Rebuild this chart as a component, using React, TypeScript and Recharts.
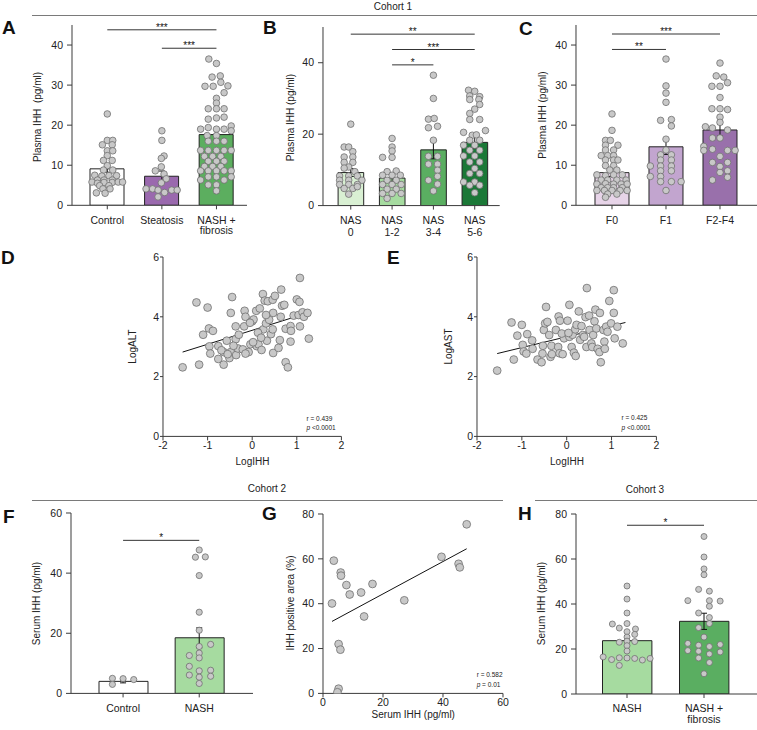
import React from 'react';
import { ComposedChart, Bar, Scatter, XAxis, YAxis, ErrorBar, ReferenceLine, Cell } from 'recharts';

const FONT = '"Liberation Sans", Arial, Helvetica, sans-serif';
const AXIS = '#3a3a3a';
const DOT_FILL = '#c8c8c8';
const DOT_STROKE = '#707070';

// ---------- Panel A (Cohort 1) ----------
const catA = ['Control', 'Steatosis', 'NASH +\nfibrosis'];
const meanA = [9.1, 7.25, 17.65];
const semA = [0.85, 1.3, 1.25];
const colorA = ['#ffffff', '#9a69ae', '#5cae5f'];
const dotsA = [
  [0, 22.8], [0, 16.2], [0.1, 16.2], [-0.09, 15.1], [0.09, 15.1], [0, 13.6], [0.1, 13.6], [0, 12.4], [-0.07, 11.2], [0.09, 11.2],
  [0, 9.9], [-0.07, 8.8], [0.1, 8.8], [-0.23, 7.5], [-0.1, 7.3], [0.03, 7.4], [0.17, 7.4], [-0.18, 6.3], [-0.06, 6.3], [0.09, 6.3],
  [-0.28, 5.8], [-0.18, 5.5], [-0.06, 5.7], [0.09, 5.7], [0.2, 5.8], [0.28, 5.8], [-0.14, 4.9], [0.03, 4.9], [-0.08, 4.1], [0.05, 4.1],
  [-0.2, 3.1], [-0.04, 3.0],
  [1, 18.6], [1, 16.2], [1.04, 12.3], [0.99, 11.7], [0.99, 9.6], [1.04, 7.8], [0.88, 8.6], [1.08, 6.6], [0.99, 5.6], [0.71, 4.1],
  [0.83, 4.1], [0.93, 3.8], [1.05, 3.2], [1.18, 3.8], [1.28, 3.8], [0.93, 2.1],
  [1.86, 36.5], [2, 35.4], [1.92, 32], [2.07, 32.3], [1.79, 29.7], [1.94, 29.7], [2.08, 30.7], [2.21, 29.8], [2.14, 28.1], [2, 26.7],
  [2, 25.5], [1.85, 24.1], [2, 24.1], [2.14, 24.1], [1.85, 21.5], [2, 21.8], [2.14, 22], [1.71, 19], [1.85, 19.4], [2, 19],
  [2.14, 19], [2.27, 19.8], [2.27, 18.6], [1.83, 17.4], [2, 17.4], [1.85, 16], [2, 16], [2.14, 16], [1.71, 13.7], [1.85, 13.7],
  [2, 13.7], [2.14, 13.7], [2.27, 13.7], [1.78, 12.2], [1.93, 12.2], [2.08, 12.2], [1.85, 11], [2, 11], [2.14, 11], [1.78, 9.7],
  [1.93, 9.7], [2.08, 9.7], [1.71, 8.6], [1.85, 8.6], [2, 8.6], [2.14, 8.6], [2.27, 8.6], [1.71, 6.3], [1.85, 7.1], [2, 7.1],
  [2.14, 6.3], [2.27, 7.1], [1.85, 5.1], [2, 5.1], [2, 3.6],
];
const sigA = [[0, 2, 43.8, '***'], [1, 2, 39.2, '***']];

// ---------- Panel B ----------
const catB = ['NAS\n0', 'NAS\n1-2', 'NAS\n3-4', 'NAS\n5-6'];
const meanB = [9.25, 7.7, 15.6, 17.7];
const semB = [1.1, 1.1, 2.5, 1.7];
const colorB = ['#d9f0d3', '#a6dba0', '#5aae61', '#1b7837'];
const dotsB = [
  [0, 22.8], [-0.16, 16.4], [-0.05, 16.4], [0.05, 15.1], [-0.16, 13.6], [0.05, 13.6], [-0.16, 12.1], [0.05, 12.1], [-0.05, 10.8], [0.1, 9.5],
  [-0.27, 8.3], [-0.05, 8.3], [0.16, 8.3], [-0.27, 7.1], [-0.05, 7.1], [0.27, 7.1], [-0.27, 5.9], [-0.05, 5.9], [0.16, 5.9], [-0.16, 4.8],
  [0.05, 4.8], [-0.05, 3.2], [0.16, 5.3], [-0.16, 10.5],
  [1, 18.8], [1, 16.4], [1, 15.3], [0.77, 13.5], [1, 13.5], [0.88, 9.5], [1.1, 9.7], [0.77, 8.5], [1, 8.5], [1.2, 8.5],
  [0.88, 7.1], [1.1, 7.1], [0.77, 5.9], [1, 5.9], [1.22, 5.9], [0.88, 4.6], [1.1, 4.6], [0.77, 3.4], [1, 3.4], [1.22, 3.4], [0.88, 2.0],
  [2, 36.5], [2, 30], [1.88, 24.2], [2.02, 24.4], [1.88, 21.8], [2.1, 22.2], [2, 18.3], [1.88, 13.8], [2.1, 13.8], [1.88, 11.6],
  [2.1, 11.6], [2.1, 9.9], [2.1, 8.2], [1.88, 7.1], [2.1, 6], [2, 4.1],
  [2.85, 32.3], [3, 32], [2.88, 30.7], [3.12, 30.5], [2.88, 29.7], [3.1, 29.7], [3.12, 28.3], [3, 27], [2.88, 25.8], [2.88, 24.1],
  [3.12, 24.1], [2.73, 20.5], [2.94, 19.7], [3.04, 19.8], [3.26, 21], [2.88, 18.3], [3.12, 18.3], [2.73, 16.9], [3, 16.9], [2.88, 15.5],
  [3.12, 15.5], [2.73, 13.9], [3, 13.9], [2.88, 12.2], [3.12, 12.2], [3, 10.4], [2.88, 9], [3.12, 9], [2.73, 6.6], [3, 6.6],
  [2.88, 5.7], [3.12, 5.7], [3, 3.6],
];
const sigB = [[0, 3, 48.0, '**'], [1, 3, 43.7, '***'], [1, 2, 39.4, '*']];

// ---------- Panel C ----------
const catC = ['F0', 'F1', 'F2-F4'];
const meanC = [8.15, 14.6, 18.8];
const semC = [1.0, 1.9, 1.5];
const colorC = ['#e7d4e8', '#c2a5cf', '#9970ab'];
const dotsC = [
  [0, 22.8], [0, 18.7], [-0.12, 16.2], [-0.03, 16.2], [-0.12, 15], [0.11, 15], [-0.12, 13.8], [0.03, 13.8], [-0.2, 12.4], [-0.08, 12.4],
  [0.03, 12.4], [-0.12, 11.3], [0.03, 11.3], [0.11, 11.3], [-0.12, 9.9], [0.03, 9.9], [-0.04, 8.8], [0.09, 8.8], [-0.28, 7.6], [-0.12, 7.4],
  [0.03, 7.6], [0.19, 7.6], [-0.2, 6.3], [-0.08, 6.3], [0.09, 6.3], [0.26, 6.3], [-0.28, 5.3], [-0.12, 5.4], [0.03, 5.3], [0.17, 5.3],
  [0.28, 5.3], [-0.2, 4.4], [-0.08, 4.4], [0.03, 4.4], [0.19, 4.4], [-0.28, 3.7], [-0.14, 3.7], [0, 3.7], [0.15, 3.7], [0.28, 3.7],
  [-0.08, 2.8], [0.09, 2.8], [-0.12, 2.0],
  [1, 36.5], [1, 29.8], [1, 28], [1, 25.7], [0.9, 21.2], [1.1, 21.4], [1.1, 19.8], [1, 16.5], [1, 13.8], [0.9, 12.6],
  [1.1, 12.6], [0.9, 11.3], [1.1, 11.3], [0.71, 9.8], [0.9, 9.8], [1.1, 9.8], [0.9, 8.6], [1.1, 8.6], [0.71, 7.2], [0.9, 7.2],
  [0.9, 5.9], [1.1, 5.9], [1.28, 5.9], [1, 3.7],
  [2, 35.5], [1.93, 32.3], [2.07, 32], [2.14, 30.6], [1.85, 29.7], [2, 29.7], [2, 26.9], [1.85, 24.1], [2, 24.1], [2.14, 23.9],
  [2, 22], [1.73, 19.6], [1.86, 19.3], [2, 20.7], [2.14, 18.8], [1.86, 16.8], [2, 16.8], [1.7, 14.7], [1.86, 14], [2.14, 13.7],
  [2.28, 13.7], [1.7, 13.7], [2, 12.2], [1.86, 10.7], [2.14, 10.7], [2, 9.7], [2, 8.2], [2.14, 8.6], [1.86, 6.3], [2.14, 7],
];
const sigC = [[0, 2, 42.75, '***'], [0, 1, 38.9, '**']];

// ---------- Panel D ----------
const dotsD = [
  [-1.56, 2.31], [-1.19, 2.4], [-1.25, 4.48], [-1.0, 4.31], [-1.1, 3.4], [-0.97, 3.61], [-0.88, 3.53], [-0.96, 3.01], [-0.94, 2.77], [-0.76, 3.02],
  [-0.76, 2.59], [-0.64, 2.4], [-0.64, 2.82], [-0.57, 3.2], [-0.51, 2.62], [-0.48, 2.82], [-0.48, 4.13], [-0.45, 4.66], [-0.37, 3.25], [-0.37, 3.68],
  [-0.36, 2.72], [-0.32, 2.94], [-0.3, 3.4], [-0.21, 2.91], [-0.18, 3.68], [-0.17, 4.2], [-0.15, 4.0], [-0.08, 2.82], [-0.04, 3.08], [0.0, 3.85],
  [0.03, 3.91], [0.09, 4.2], [0.1, 3.02], [0.14, 3.08], [0.17, 4.28], [0.21, 2.89], [0.24, 4.76], [0.25, 3.58], [0.28, 4.54], [0.31, 3.78],
  [0.33, 3.2], [0.35, 4.52], [0.38, 3.9], [0.42, 3.42], [0.46, 3.58], [0.47, 4.13], [0.46, 4.57], [0.51, 4.7], [0.47, 2.79], [0.59, 2.96],
  [0.62, 3.22], [0.64, 4.0], [0.65, 4.91], [0.67, 4.37], [0.72, 4.4], [0.75, 3.6], [0.75, 2.48], [0.8, 2.31], [0.86, 3.69], [0.87, 3.53],
  [0.86, 3.17], [0.93, 4.04], [1.0, 4.58], [1.04, 4.06], [1.06, 4.5], [1.07, 3.68], [1.07, 5.3], [1.13, 4.15], [1.16, 4.0], [1.24, 4.13],
  [1.27, 3.27], [-0.05, 3.8], [0.02, 3.15], [0.31, 4.06], [-0.69, 2.88], [-0.42, 3.03], [-0.15, 2.77], [0.13, 3.47], [-0.55, 2.75], [0.2, 3.3],
];
const regD = [[-1.56, 2.82], [1.29, 4.15]];

// ---------- Panel E ----------
const dotsE = [
  [-1.55, 2.2], [-1.23, 3.81], [-1.18, 2.57], [-1.1, 3.37], [-1.0, 3.73], [-0.98, 3.06], [-0.96, 2.84], [-0.9, 2.77], [-0.88, 3.42], [-0.77, 3.21],
  [-0.76, 2.93], [-0.65, 2.57], [-0.56, 2.48], [-0.54, 2.77], [-0.53, 3.03], [-0.51, 3.56], [-0.48, 3.78], [-0.46, 4.33], [-0.43, 3.83], [-0.39, 3.39],
  [-0.36, 2.66], [-0.34, 3.03], [-0.33, 2.75], [-0.24, 3.56], [-0.19, 2.99], [-0.18, 4.01], [-0.15, 3.87], [-0.16, 2.78], [-0.09, 2.75], [-0.06, 3.28],
  [0.02, 3.87], [0.06, 4.4], [0.06, 3.33], [0.11, 2.99], [0.13, 3.4], [0.16, 2.8], [0.19, 3.58], [0.2, 2.69], [0.22, 3.73], [0.27, 4.18],
  [0.3, 3.23], [0.33, 3.69], [0.36, 3.39], [0.39, 3.33], [0.42, 3.99], [0.44, 2.99], [0.45, 4.96], [0.5, 4.04], [0.51, 3.56], [0.55, 3.11],
  [0.57, 2.99], [0.59, 3.39], [0.62, 3.85], [0.64, 4.24], [0.66, 3.61], [0.69, 2.93], [0.73, 2.82], [0.74, 4.13], [0.76, 2.48], [0.82, 3.56],
  [0.84, 3.17], [0.85, 2.93], [0.88, 3.67], [0.91, 3.5], [0.95, 4.53], [0.99, 3.78], [1.05, 4.89], [1.05, 4.13], [1.07, 3.28], [1.13, 3.67],
  [1.25, 3.11], [-0.11, 3.44], [0.04, 3.46],
];
const regE = [[-1.55, 2.77], [1.31, 3.81]];

// ---------- Panel F (Cohort 2) ----------
const catF = ['Control', 'NASH'];
const meanF = [4.0, 18.5];
const semF = [0.5, 3.3];
const colorF = ['#ffffff', '#a6dba0'];
const dotsF = [
  [-0.14, 5.0], [-0.14, 3.0], [0, 4.9], [0.14, 4.6],
  [1, 47.7], [0.95, 45.3], [1.08, 45.4], [1, 39.2], [1, 27], [1, 21], [1, 15.6], [1, 13.4], [1, 11.8], [1, 7.5],
  [1, 5.4], [1, 3.3], [0.87, 12.6], [0.87, 9], [0.87, 6.1], [1.15, 16.3], [1.15, 7.7], [1.15, 5.7],
];
const sigF = [[0, 1, 50.9, '*']];

// ---------- Panel G ----------
const dotsG = [
  [3.6, 59.2], [3.0, 40.1], [5.9, 53.9], [6.0, 52.5], [7.8, 48.3], [8.9, 44.1], [12.7, 45.0], [13.7, 34.3], [16.5, 48.8],
  [27.1, 41.5], [39.5, 60.9], [45.2, 57.8], [45.6, 56.2], [47.9, 75.4], [5.2, 22.0], [5.8, 19.5], [5.2, 2.1], [4.8, 0.5],
];
const regG = [[3.0, 32.1], [47.9, 64.5]];

// ---------- Panel H (Cohort 3) ----------
const catH = ['NASH', 'NASH +\nfibrosis'];
const meanH = [23.7, 32.3];
const semH = [2.2, 3.6];
const colorH = ['#a6dba0', '#5aae61'];
const dotsH = [
  [0, 48], [0, 42.2], [0, 36], [-0.19, 31.1], [0, 31.3], [0.11, 28.9], [-0.1, 29.3], [0, 27.7], [0.1, 26.5], [0, 25.3],
  [-0.1, 23], [0, 23.5], [0.1, 23.3], [0, 21.5], [0, 19.1], [-0.31, 16.5], [-0.2, 15.3], [-0.1, 16.1], [0, 16], [0.1, 15.8],
  [0.2, 15.1], [0.3, 15.8], [-0.1, 12.7],
  [1, 70], [1, 60.9], [1, 55.6], [1, 53], [0.93, 46.5], [1.07, 45.7], [0.79, 41.5], [1.07, 41.5], [1.21, 41.3], [1.07, 39],
  [0.93, 36], [1.07, 34], [0.93, 29.5], [1.07, 31.3], [1, 25.3], [0.79, 22.5], [0.93, 21.7], [1.07, 21.1], [1.21, 22], [0.79, 19.3],
  [0.93, 19], [1.07, 17.8], [1.21, 18.7], [0.93, 16], [1.07, 14], [1, 9],
];
const sigH = [[0, 1, 75, '*']];

const makeDot = (r: number) => (props: any) => {
  if (props.cx == null || props.cy == null) return <g />;
  return <circle cx={props.cx} cy={props.cy} r={r} fill={DOT_FILL} stroke={DOT_STROKE} strokeWidth={0.8} />;
};
const NoDot = () => <g />;

const CatTick = (props: any) => {
  const { x, y, payload, lineH, fs } = props;
  const lines = String(payload.value).split('\n');
  return (
    <text x={x} y={y} textAnchor="middle" fontSize={fs} fill="#222" fontFamily={FONT}>
      {lines.map((l: string, i: number) => (
        <tspan key={i} x={x} dy={i === 0 ? '0.71em' : lineH}>{l}</tspan>
      ))}
    </text>
  );
};

function BarPanel(p: any) {
  const YW = 40, MT = 6, MR = 4, XH = 40;
  const width = YW + (p.xRight - p.x0) + MR;
  const height = MT + (p.yBottom - p.yTop) + XH;
  const data = p.cats.map((c: string, i: number) => ({ name: c, mean: p.means[i], sem: p.sems[i] }));
  const pts = p.dots.map((d: number[]) => ({ x: d[0], y: d[1] }));
  const meanPts = p.means.map((m: number, i: number) => ({ x: i, y: m, sem: p.sems[i] }));
  const n = p.cats.length;
  return (
    <div style={{ position: 'absolute', left: p.x0 - YW, top: p.yTop - MT, width, height }}>
      <ComposedChart width={width} height={height} data={data} margin={{ top: MT, right: MR, left: 0, bottom: 0 }}>
        <XAxis xAxisId="cat" dataKey="name" type="category" height={XH} interval={0}
          padding={{ left: p.padL, right: p.padR }} stroke={AXIS} tickSize={4} tickMargin={7}
          tick={(tp: any) => <CatTick {...tp} lineH={p.lineH} fs={10.5} />} />
        <XAxis xAxisId="num" dataKey="x" type="number" domain={[-0.5, n - 0.5]} hide allowDataOverflow
          padding={{ left: p.padL, right: p.padR }} />
        <YAxis type="number" domain={[0, p.yMax]} ticks={p.yTicks} width={YW} stroke={AXIS} allowDataOverflow
          tickSize={5} tickMargin={4} interval={0} tick={{ fontSize: 10.5, fill: '#222', fontFamily: FONT }} />
        <Bar xAxisId="cat" dataKey="mean" barSize={p.barSize} stroke="#222" strokeWidth={1} isAnimationActive={false}>
          {data.map((d: any, i: number) => <Cell key={i} fill={p.colors[i]} />)}
        </Bar>
        <Scatter xAxisId="num" data={pts} dataKey="y" shape={makeDot(p.r)} isAnimationActive={false} />
        <Scatter xAxisId="num" data={meanPts} dataKey="y" shape={NoDot} isAnimationActive={false}>
          <ErrorBar dataKey="sem" width={3} stroke="#111" strokeWidth={1} direction="y" />
        </Scatter>
        {p.sigs.map((s: any[], i: number) => (
          <ReferenceLine key={i} xAxisId="num" segment={[{ x: s[0], y: s[2] }, { x: s[1], y: s[2] }]}
            stroke="#333" strokeWidth={1} ifOverflow="visible"
            label={{ value: s[3], position: 'top', offset: -1, fontSize: 10, fill: '#111', fontFamily: FONT }} />
        ))}
      </ComposedChart>
    </div>
  );
}

function ScatterPanel(p: any) {
  const YW = 40, MT = 6, MR = 6, XH = 30;
  const width = YW + (p.xRight - p.x0) + MR;
  const height = MT + (p.yBottom - p.yTop) + XH;
  const pts = p.dots.map((d: number[]) => ({ x: d[0], y: d[1] }));
  return (
    <div style={{ position: 'absolute', left: p.x0 - YW, top: p.yTop - MT, width, height }}>
      <ComposedChart width={width} height={height} margin={{ top: MT, right: MR, left: 0, bottom: 0 }}>
        <XAxis dataKey="x" type="number" domain={p.xDomain} ticks={p.xTicks} height={XH} interval={0} allowDataOverflow
          stroke={AXIS} tickSize={p.xts} tickMargin={p.xtm} tick={{ fontSize: 10.5, fill: '#222', fontFamily: FONT }} />
        <YAxis dataKey="y" type="number" domain={p.yDomain} ticks={p.yTicks} width={YW} interval={0} allowDataOverflow
          stroke={AXIS} tickSize={p.yts} tickMargin={p.ytm} tick={{ fontSize: 10.5, fill: '#222', fontFamily: FONT }} />
        <Scatter data={pts} dataKey="y" shape={makeDot(p.r)} isAnimationActive={false} />
        <ReferenceLine segment={[{ x: p.reg[0][0], y: p.reg[0][1] }, { x: p.reg[1][0], y: p.reg[1][1] }]}
          stroke="#111" strokeWidth={1} ifOverflow="visible" />
      </ComposedChart>
    </div>
  );
}

const letters = [
  ['A', 2, 33.5], ['B', 263, 34], ['C', 519, 35], ['D', 1, 264], ['E', 387, 264], ['F', 3, 523], ['G', 262, 519.5], ['H', 518, 519.5],
];
const yTitles = [
  ['Plasma IHH\u00a0 (pg/ml)', 37, 117], ['Plasma IHH (pg/ml)', 290.5, 117.5], ['Plasma IHH (pg/ml)', 542, 115],
  ['LogALT', 132.5, 346.5], ['LogAST', 448.3, 346.5], ['Serum IHH (pg/ml)', 36, 603.5],
  ['IHH positive area (%)', 290, 603], ['Serum IHH (pg/ml)', 541, 603.5],
];
const xTitles = [['LogIHH', 252.5, 465], ['LogIHH', 567, 465], ['Serum IHH (pg/ml)', 413.3, 718]];
const cohorts = [
  ['Cohort 1', 393, 10, 32, 757, 15.5], ['Cohort 2', 267, 492, 32, 503, 500.5], ['Cohort 3', 645, 493, 535, 757, 500.5],
];
const stats = [
  ['r = 0.439', 'p', ' <0.0001', 306.5, 421, 430],
  ['r = 0.425', 'p', ' <0.0001', 621.5, 420, 430],
  ['r = 0.582', 'p', ' = 0.01', 476.7, 676.5, 687],
];

function Overlay() {
  return (
    <svg width={757} height={730} style={{ position: 'absolute', left: 0, top: 0, pointerEvents: 'none' }} fontFamily={FONT}>
      {cohorts.map((c: any, i) => (
        <g key={i}>
          <line x1={c[3]} x2={c[4]} y1={c[5]} y2={c[5]} stroke="#7a7a7a" strokeWidth={1} />
          <text x={c[1]} y={c[2]} textAnchor="middle" fontSize={10} fill="#222">{c[0]}</text>
        </g>
      ))}
      {letters.map((l: any, i) => (
        <text key={i} x={l[1]} y={l[2]} fontSize={19} fontWeight="bold" fill="#111">{l[0]}</text>
      ))}
      {yTitles.map((t: any, i) => (
        <text key={i} x={t[1]} y={t[2]} textAnchor="middle" dominantBaseline="central" fontSize={10} fill="#222"
          transform={`rotate(-90 ${t[1]} ${t[2]})`}>{t[0]}</text>
      ))}
      {xTitles.map((t: any, i) => (
        <text key={i} x={t[1]} y={t[2]} textAnchor="middle" fontSize={10} fill="#222">{t[0]}</text>
      ))}
      {stats.map((s: any, i) => (
        <g key={i}>
          <text x={s[3]} y={s[4]} fontSize={6.5} fill="#222">{s[0]}</text>
          <text x={s[3]} y={s[5]} fontSize={6.5} fill="#222"><tspan fontStyle="italic">{s[1]}</tspan>{s[2]}</text>
        </g>
      ))}
    </svg>
  );
}

export default function App() {
  return (
    <div style={{ position: 'absolute', left: 0, top: 0, width: 757, height: 730, overflow: 'hidden', background: '#fff', fontFamily: FONT }}>
      <BarPanel x0={72} yTop={25} yBottom={205.3} xRight={247} padL={8} padR={3.25} barSize={34} yMax={45}
        yTicks={[0, 10, 20, 30, 40]} cats={catA} means={meanA} sems={semA} colors={colorA} dots={dotsA} sigs={sigA} lineH={10.5} r={3.3} />
      <BarPanel x0={323.3} yTop={26.7} yBottom={205.3} xRight={500} padL={7.1} padR={4.3} barSize={25.6} yMax={50}
        yTicks={[0, 20, 40]} cats={catB} means={meanB} sems={semB} colors={colorB} dots={dotsB} sigs={sigB} lineH={12} r={3.3} />
      <BarPanel x0={575.7} yTop={25} yBottom={205.3} xRight={757} padL={9} padR={10.3} barSize={34} yMax={45}
        yTicks={[0, 10, 20, 30, 40]} cats={catC} means={meanC} sems={semC} colors={colorC} dots={dotsC} sigs={sigC} lineH={10.5} r={3.3} />
      <ScatterPanel x0={163.3} yTop={257.3} yBottom={436.7} xRight={341.7} xDomain={[-2, 2]} xTicks={[-2, -1, 0, 1, 2]}
        yDomain={[0, 6]} yTicks={[0, 2, 4, 6]} dots={dotsD} reg={regD} r={3.9} xts={4} xtm={1} yts={3} ytm={1} />
      <ScatterPanel x0={477.3} yTop={257.3} yBottom={436.7} xRight={656.7} xDomain={[-2, 2]} xTicks={[-2, -1, 0, 1, 2]}
        yDomain={[0, 6]} yTicks={[0, 2, 4, 6]} dots={dotsE} reg={regE} r={3.9} xts={4} xtm={1} yts={3} ytm={1} />
      <BarPanel x0={71} yTop={513.3} yBottom={693.7} xRight={253} padL={14} padR={15.7} barSize={49} yMax={60}
        yTicks={[0, 20, 40, 60]} cats={catF} means={meanF} sems={semF} colors={colorF} dots={dotsF} sigs={sigF} lineH={10.5} r={3.1} />
      <ScatterPanel x0={323.3} yTop={514.3} yBottom={693.7} xRight={503.3} xDomain={[0, 60]} xTicks={[0, 20, 40, 60]}
        yDomain={[0, 80]} yTicks={[0, 20, 40, 60, 80]} dots={dotsG} reg={regG} r={3.9} xts={4} xtm={1} yts={5} ytm={4} />
      <BarPanel x0={576} yTop={513.7} yBottom={693.7} xRight={757} padL={12.5} padR={14.5} barSize={49.4} yMax={80}
        yTicks={[0, 20, 40, 60, 80]} cats={catH} means={meanH} sems={semH} colors={colorH} dots={dotsH} sigs={sigH} lineH={11} r={3.0} />
      <Overlay />
    </div>
  );
}
